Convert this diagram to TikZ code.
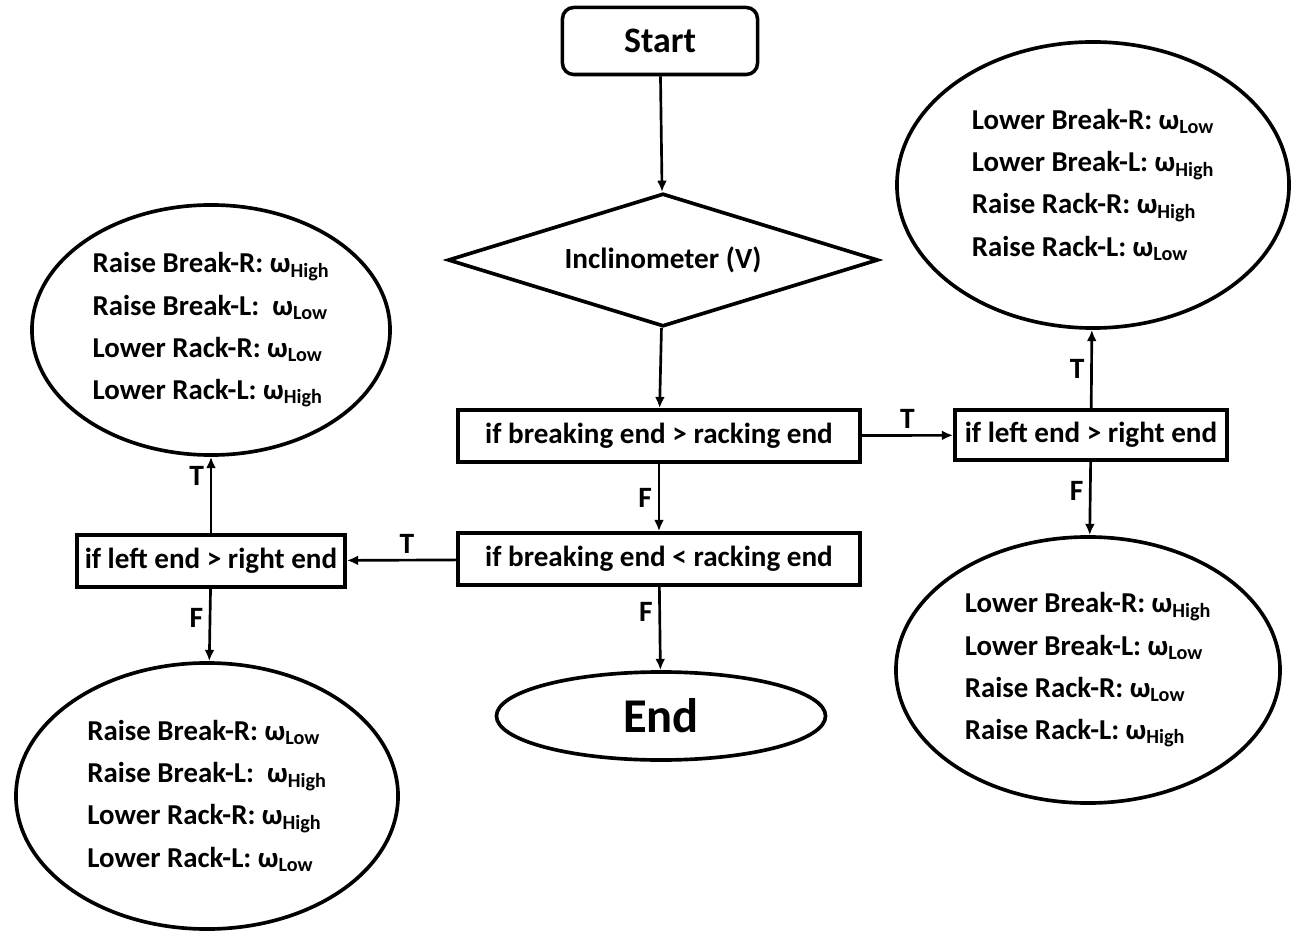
\documentclass[tikz,border=0pt]{standalone}
\usepackage{fontspec}
\setmainfont{Carlito}
\usetikzlibrary{arrows.meta, positioning, shapes.geometric}
\newcommand{\om}[1]{ω\textsubscript{#1}}
\tikzset{
  startbox/.style={rectangle, rounded corners=8pt, draw, line width=2.5pt,
                   minimum width=4.875cm, minimum height=1.675cm,
                   font=\fontsize{25.5}{28}\selectfont\bfseries},
  %% decision boxes
  ifbox/.style={rectangle, draw, line width=2.6pt, minimum height=1.3cm,
                inner sep=2pt, font=\fontsize{20.7}{24}\selectfont\bfseries},
  sensor/.style={diamond, draw, line width=2.6pt, aspect=3.2, inner sep=0pt,
                 minimum width=10.75cm, minimum height=3.325cm,
                 font=\fontsize{20.8}{24}\selectfont\bfseries},
  %% speed ellipses
  action/.style={ellipse, draw, line width=2.6pt, inner sep=0pt, align=left,
                 font=\fontsize{20.5}{30}\selectfont\bfseries},
  endnode/.style={ellipse, draw, line width=2.6pt, minimum width=8.225cm,
                  minimum height=2.2cm, font=\fontsize{34.5}{38}\selectfont\bfseries},
  flow/.style={-{Latex[length=8pt, width=7pt]}, line width=1.9pt},
  tf/.style={font=\fontsize{21}{24}\selectfont\bfseries, inner sep=4pt},
}
\begin{document}
\begin{tikzpicture}[x=0.025cm, y=-0.025cm]
\useasboundingbox (0,0) rectangle (1296,931);

%% ============================================================
%%  MAIN COLUMN
%% ============================================================
\def\Cx{660}
\node[startbox] (start) at (\Cx, 41) {Start};
\node[sensor] (incl) at (663, 260) {Inclinometer (V)};
\node[ifbox, minimum width=10.05cm] (bgr) at (659, 436) {if breaking end > racking end};
\node[ifbox, minimum width=10.05cm] (bls) at (659, 559) {if breaking end < racking end};
\node[endnode] (end) at (661, 716) {End};

%% ============================================================
%%  RIGHT BRANCH
%% ============================================================
\node[ifbox, minimum width=6.8cm, minimum height=1.25cm] (rlr) at (1091, 435)
  {if left end > right end};
\node[action, minimum width=9.8cm, minimum height=7.15cm] (rtop) at (1093, 185) {%
  Lower Break-R: \om{Low}\\
  Lower Break-L: \om{High}\\
  Raise Rack-R: \om{High}\\
  Raise Rack-L: \om{Low}};
\node[action, minimum width=9.6cm, minimum height=6.65cm] (rbot) at (1088, 670) {%
  Lower Break-R: \om{High}\\
  Lower Break-L: \om{Low}\\
  Raise Rack-R: \om{Low}\\
  Raise Rack-L: \om{High}};

%% ============================================================
%%  LEFT BRANCH
%% ============================================================
\node[ifbox, minimum width=6.7cm] (llr) at (211, 561) {if left end > right end};
\node[action, minimum width=8.95cm, minimum height=6.25cm] (ltop) at (211, 330) {%
  Raise Break-R: \om{High}\\
  Raise Break-L:\ \ \om{Low}\\
  Lower Rack-R: \om{Low}\\
  Lower Rack-L: \om{High}};
\node[action, minimum width=9.55cm, minimum height=6.65cm] (lbot) at (207, 796) {%
  Raise Break-R: \om{Low}\\
  Raise Break-L:\ \ \om{High}\\
  Lower Rack-R: \om{High}\\
  Lower Rack-L: \om{Low}};

%% ============================================================
%%  CONNECTORS
%% ============================================================
\draw[flow] (start) -- (incl);
\draw[flow] (incl) -- (bgr);
\draw[flow] (bgr) -- node[tf, midway, left] {F} (bls);
\draw[flow] (bls) -- node[tf, pos=0.3, left] {F} (end);
\draw[flow] (bgr) -- node[tf, midway, above] {T} (rlr);
\draw[flow] (rlr) -- node[tf, midway, left] {T} (rtop);
\draw[flow] (rlr) -- node[tf, pos=0.4, left] {F} (rbot);
\draw[flow] (bls) -- node[tf, pos=0.45, above] {T} (llr);
\draw[flow] (llr) -- node[tf, pos=0.75, left] {T} (ltop);
\draw[flow] (llr) -- node[tf, pos=0.4, left] {F} (lbot);

\end{tikzpicture}
\end{document}
